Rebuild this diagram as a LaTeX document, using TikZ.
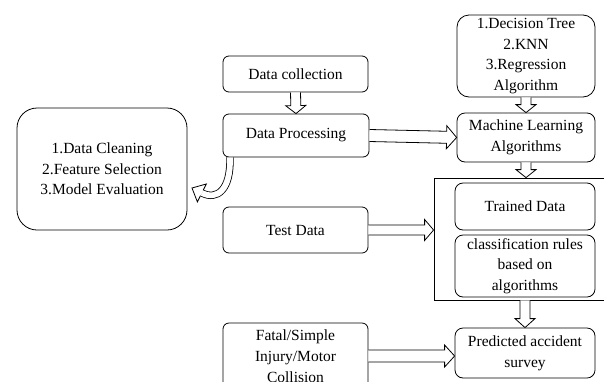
\documentclass[tikz,border=0pt]{standalone}
\usepackage{fontspec}
\setmainfont{Liberation Serif}
\usetikzlibrary{calc}

\tikzset{
  box/.style={draw, line width=0.8pt, rounded corners=6pt, align=center, inner sep=0pt,
    minimum width=145pt, font=\fontsize{15.5}{20.7}\selectfont},
  hollow/.style={draw, fill=white, line width=0.8pt, line join=miter}
}

% hollow block arrow: shaft half width, head half width, head length, from, to
\newcommand{\blockarrow}[5]{%
  \coordinate (bk) at ($(#5)!#3pt!(#4)$);
  \filldraw[hollow] ($(#4)!#1pt!90:(#5)$) -- ($(bk)!#1pt!90:(#5)$) -- ($(bk)!#2pt!90:(#5)$)
    -- (#5) -- ($(bk)!#2pt!-90:(#5)$) -- ($(bk)!#1pt!-90:(#5)$) -- ($(#4)!#1pt!-90:(#5)$);
}

\begin{document}
\begin{tikzpicture}[x=1pt, y=-1pt]
        \fill[white] (0,0) rectangle (604,381);
        \useasboundingbox (0,0) rectangle (604,381);

        % left column
        \node[box, minimum height=36pt] (dc) at (295.5,74) {Data collection};
        \node[box, minimum width=146pt, minimum height=43pt] (dp) at (296,135.5) {Data Processing};
        \node[box, minimum height=46pt] (tdata) at (295.5,230) {Test Data};
        \node[box, minimum height=66pt] (fatal) at (295.5,356) {Fatal/Simple\\Injury/Motor\\Collision};
        \node[box, rounded corners=20pt, minimum width=170pt, minimum height=122pt] (steps) at (102,169)
            {1.Data Cleaning\\2.Feature Selection\\3.Model Evaluation};

        % right column
        \node[box, rounded corners=12pt, minimum width=138pt, minimum height=82pt] (algos) at (526,56)
            {1.Decision Tree\\2.KNN\\3.Regression\\Algorithm};
        \node[box, rounded corners=8pt, minimum width=138pt, minimum height=49pt] (ml) at (526,137.5)
            {Machine Learning\\Algorithms};
        \node[draw, line width=0.8pt, inner sep=0pt, minimum width=176pt, minimum height=122pt] (model) at (522,239) {};
        \node[box, rounded corners=8pt, minimum width=140pt, minimum height=47pt] (trained) at (525,206.5) {Trained Data};
        \node[box, rounded corners=8pt, minimum width=140pt, minimum height=62pt] (rules) at (525,266)
            {classification rules\\based on\\algorithms};
        \node[box, rounded corners=8pt, minimum width=140pt, minimum height=50pt] (pred) at (525,353)
            {Predicted accident\\survey};

        % arrows
        \coordinate (mtop) at (ml.south |- model.north);
        \coordinate (mbot) at (pred.north |- model.south);
        \coordinate (tin) at (tdata.east -| model.west);
        \coordinate (pin) at (fatal.east -| pred.west);
        \blockarrow{5}{10}{8}{dc.south}{dp.north}
        \blockarrow{6}{11.5}{10}{dp.east}{ml.west}
        \blockarrow{5}{10}{8}{algos.south}{ml.north}
        \blockarrow{5}{10}{8}{ml.south}{mtop}
        \blockarrow{5}{10}{9}{mbot}{pred.north}
        \blockarrow{5}{10.5}{9}{tdata.east}{tin}
        \blockarrow{6}{11}{10}{fatal.east}{pin}

        % curved arrow back to the left box
        \coordinate (cs) at ($(dp.south west)!0.05!(dp.south east)$);
        \coordinate (cb) at (202,193);
        \coordinate (ct) at (192,188);
        \draw[line width=0.8pt, double distance=5.8pt] (cs) .. controls (231,190) and (217,200.5) .. (cb);
        \blockarrow{3.3}{10}{11}{cb}{ct}
    \end{tikzpicture}
\end{document}
